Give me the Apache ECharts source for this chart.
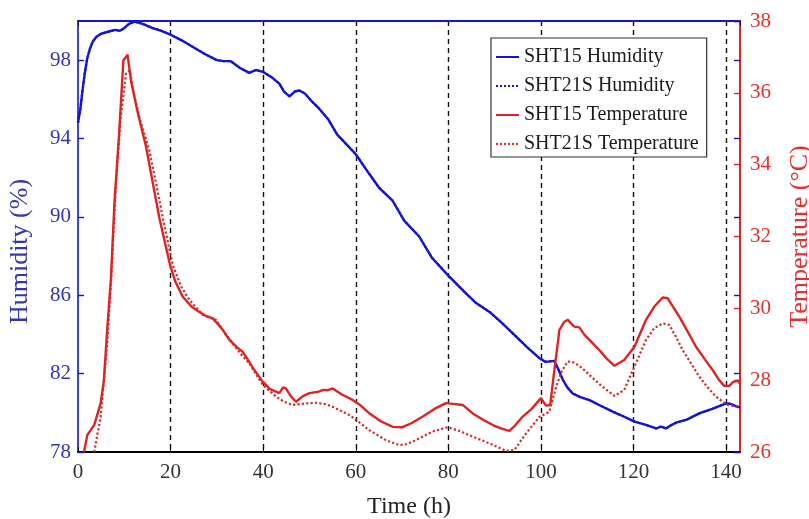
<!DOCTYPE html>
<html>
<head>
<meta charset="utf-8">
<script src="https://cdn.jsdelivr.net/npm/echarts@6/dist/echarts.min.js"></script>
<style>
  html, body { margin: 0; padding: 0; background: #fff; }
  #chart { width: 809px; height: 519px; }
</style>
</head>
<body>
<div id="chart"></div>
<script>
// Time axis ticks (h) and axis ranges
const timeTicks = [0, 20, 40, 60, 80, 100, 120, 140];

// Relative humidity (%) logged over the run
const humTime = [0, 0.5, 1.0, 1.5, 2.0, 2.6, 3.2, 4.0, 5.0, 6.5, 8.0, 9.0, 9.8, 11, 12.2, 14, 16, 18, 20, 22.5, 25, 27.5, 30, 31.5, 33, 35, 37, 38.4, 40, 42, 43.5, 44.5, 45.7, 46.8, 47.8, 49, 50.5, 52, 54, 56, 58, 60, 62.9, 65, 67.9, 70.5, 73.7, 76.5, 80, 83.8, 86, 88.9, 91.5, 94.6, 97, 99.6, 101, 102.9, 103.8, 104.7, 105.7, 106.8, 108.5, 110.5, 113, 115.5, 118, 120.2, 122.5, 124.9, 125.9, 127, 128, 129.2, 131.5, 134.2, 137, 140, 141, 142.5, 143];
const humSHT15 = [94.8, 95.5, 96.5, 97.4, 98.1, 98.6, 98.95, 99.2, 99.35, 99.45, 99.55, 99.5, 99.6, 99.85, 99.97, 99.85, 99.65, 99.5, 99.3, 99.0, 98.65, 98.3, 98.0, 97.95, 97.95, 97.6, 97.35, 97.5, 97.4, 97.1, 96.8, 96.4, 96.15, 96.4, 96.45, 96.3, 95.9, 95.55, 95.0, 94.2, 93.7, 93.2, 92.2, 91.5, 90.85, 89.8, 89.0, 87.9, 87.0, 86.1, 85.6, 85.15, 84.6, 83.9, 83.35, 82.8, 82.6, 82.65, 82.2, 81.7, 81.3, 81.0, 80.8, 80.65, 80.35, 80.06, 79.8, 79.55, 79.4, 79.2, 79.3, 79.2, 79.35, 79.5, 79.65, 79.97, 80.2, 80.48, 80.45, 80.3, 80.3];
// SHT21S humidity runs on top of the SHT15 trace
const humSHT21S = [94.8, 95.5, 96.5, 97.4, 98.1, 98.6, 98.95, 99.2, 99.35, 99.45, 99.55, 99.5, 99.6, 99.85, 99.97, 99.85, 99.65, 99.5, 99.3, 99.0, 98.65, 98.3, 98.0, 97.95, 97.95, 97.6, 97.35, 97.5, 97.4, 97.1, 96.8, 96.4, 96.15, 96.4, 96.45, 96.3, 95.9, 95.55, 95.0, 94.2, 93.7, 93.2, 92.2, 91.5, 90.85, 89.8, 89.0, 87.9, 87.0, 86.1, 85.6, 85.15, 84.6, 83.9, 83.35, 82.8, 82.6, 82.65, 82.2, 81.7, 81.3, 81.0, 80.8, 80.65, 80.35, 80.06, 79.8, 79.55, 79.4, 79.2, 79.3, 79.2, 79.35, 79.5, 79.65, 79.97, 80.2, 80.48, 80.45, 80.3, 80.3];

// Temperature (°C), SHT15
const tempTime15 = [1.3, 2.0, 3.5, 4.9, 5.6, 6.3, 7.1, 7.9, 8.9, 9.8, 10.7, 11.5, 13, 14.7, 16, 17.6, 19.9, 21, 22.6, 24.5, 26.2, 27.5, 29.1, 31, 32.7, 34.5, 35.5, 36.3, 38, 39.9, 41.5, 43.5, 44.3, 44.9, 46, 47.1, 48.5, 50, 52, 53, 54, 55, 57, 59.3, 61, 62.9, 65.5, 68, 70.1, 72, 74.4, 77, 79.5, 81, 83.1, 85.2, 87.5, 89.6, 91.5, 93.2, 94.5, 96, 98, 100, 101.1, 102, 102.9, 104, 105, 105.8, 106.5, 107.2, 108.3, 109.4, 111, 112.6, 114.2, 115.9, 118, 120.2, 122.7, 124.5, 126.3, 127.4, 128.5, 129.9, 131.7, 133.5, 135.3, 137.1, 138.5, 139.6, 140.7, 141.5, 142.5, 143];
const tempSHT15 = [26.0, 26.47, 26.75, 27.36, 28.0, 29.4, 30.8, 33.0, 34.9, 36.9, 37.06, 36.3, 35.4, 34.5, 33.6, 32.5, 31.2, 30.75, 30.33, 30.05, 29.9, 29.8, 29.72, 29.45, 29.12, 28.9, 28.8, 28.65, 28.3, 27.96, 27.75, 27.64, 27.8, 27.77, 27.55, 27.4, 27.55, 27.64, 27.68, 27.73, 27.72, 27.77, 27.6, 27.45, 27.3, 27.08, 26.85, 26.7, 26.69, 26.8, 26.98, 27.2, 27.36, 27.34, 27.31, 27.08, 26.9, 26.75, 26.65, 26.59, 26.75, 26.98, 27.2, 27.5, 27.29, 27.31, 28.28, 29.4, 29.62, 29.68, 29.58, 29.49, 29.47, 29.26, 29.05, 28.84, 28.6, 28.4, 28.56, 28.93, 29.68, 30.05, 30.3, 30.28, 30.05, 29.77, 29.35, 28.93, 28.6, 28.28, 28.0, 27.84, 27.84, 27.95, 27.99, 27.9];

// Temperature (°C), SHT21S
const tempTime21 = [3.5, 4.2, 4.9, 5.6, 6.4, 7.2, 8.2, 9.2, 10.4, 11.2, 12, 13.5, 15.4, 17.0, 18.5, 20.5, 22.3, 24.1, 26.9, 29.8, 31.5, 33.4, 35, 37, 39.9, 42.8, 44.5, 46.4, 49, 51.4, 53.5, 55, 58.6, 60.5, 62.9, 66.5, 69.4, 71, 73, 76.6, 79.9, 82.5, 85.2, 88.9, 92.5, 94.3, 96.8, 99.7, 101.8, 103.3, 104.5, 105.8, 107.2, 108.8, 110.5, 113, 115.9, 118, 120.2, 122.7, 124.5, 126.3, 127.7, 129.2, 130.6, 132.5, 134.2, 136, 137.8, 140.3, 142.5, 143];
const tempSHT21S = [26.0, 26.5, 26.98, 28.0, 29.2, 30.9, 33.5, 35.3, 36.55, 36.62, 36.0, 35.2, 34.4, 33.4, 32.4, 31.2, 30.6, 30.23, 29.82, 29.68, 29.35, 29.03, 28.75, 28.47, 27.87, 27.54, 27.4, 27.31, 27.35, 27.37, 27.33, 27.26, 27.03, 26.85, 26.61, 26.33, 26.19, 26.22, 26.33, 26.57, 26.69, 26.58, 26.43, 26.24, 26.03, 26.06, 26.52, 26.98, 27.12, 27.82, 28.25, 28.52, 28.49, 28.35, 28.14, 27.85, 27.56, 27.73, 28.38, 29.12, 29.45, 29.58, 29.54, 29.2, 28.84, 28.45, 28.1, 27.8, 27.54, 27.31, 27.26, 27.25];

const pairs = (xs, ys) => xs.map((x, i) => [x, ys[i]]);

const serif = "'Liberation Serif', 'Times New Roman', serif";
const BLUE = '#1414d6';
const BLUE_TXT = '#3434b4';
const RED = '#e02222';
const RED_TXT = '#e23030';

const chart = echarts.init(document.getElementById('chart'), null, { renderer: 'canvas' });

chart.setOption({
  animation: false,
  backgroundColor: '#ffffff',
  grid: { left: 78, right: 69, top: 21, bottom: 67, containLabel: false, outerBoundsMode: 'none' },
  legend: {
    orient: 'vertical',
    left: 491,
    top: 38,
    padding: [9, 8, 3, 4],
    itemGap: 9,
    itemWidth: 23,
    itemHeight: 12,
    backgroundColor: '#ffffff',
    borderColor: '#333333',
    borderWidth: 1.2,
    // keep only the line sample in each legend entry
    itemStyle: { opacity: 0 },
    textStyle: { fontFamily: serif, fontSize: 20, color: '#1a1a1a' },
    data: ['SHT15 Humidity', 'SHT21S Humidity', 'SHT15 Temperature', 'SHT21S Temperature']
  },
  xAxis: [
    {
      type: 'value',
      min: timeTicks[0],
      max: 143,
      interval: 20,
      name: 'Time (h)',
      nameLocation: 'middle',
      nameGap: 43,
      nameTextStyle: { fontFamily: serif, fontSize: 24, color: '#222' },
      axisLine: { show: true, onZero: false, lineStyle: { color: '#000', width: 2 } },
      axisTick: { show: true, inside: true, length: 5, lineStyle: { color: '#000', width: 1 } },
      axisLabel: { fontFamily: serif, fontSize: 21, color: '#333', margin: 10, showMaxLabel: false },
      splitLine: { show: true, showMinLine: false, showMaxLine: false, lineStyle: { color: '#111', type: [5, 4], width: 1.4 } }
    },
    {
      type: 'value',
      position: 'top',
      min: timeTicks[0],
      max: 143,
      interval: 20,
      axisLine: { show: true, onZero: false, lineStyle: { color: BLUE, width: 2 } },
      axisTick: { show: true, inside: true, length: 5, lineStyle: { color: '#111', width: 1 } },
      axisLabel: { show: false },
      splitLine: { show: false }
    }
  ],
  yAxis: [
    {
      type: 'value',
      position: 'left',
      min: 78,
      max: 100,
      interval: 4,
      name: 'Humidity (%)',
      nameLocation: 'middle',
      nameGap: 45,
      nameRotate: 90,
      nameTextStyle: { fontFamily: serif, fontSize: 26, color: BLUE_TXT, padding: [0, 30, 0, 0] },
      axisLine: { show: true, onZero: false, lineStyle: { color: BLUE, width: 1.6 } },
      axisTick: { show: true, inside: true, length: 6, lineStyle: { color: BLUE, width: 1.4 } },
      axisLabel: { fontFamily: serif, fontSize: 21, color: BLUE_TXT, margin: 7, showMaxLabel: false },
      splitLine: { show: false }
    },
    {
      type: 'value',
      position: 'right',
      min: 26,
      max: 38,
      interval: 2,
      name: 'Temperature (°C)',
      nameLocation: 'middle',
      nameGap: 47,
      nameRotate: 90,
      nameTextStyle: { fontFamily: serif, fontSize: 26, color: RED_TXT },
      axisLine: { show: true, onZero: false, lineStyle: { color: RED, width: 2 } },
      axisTick: { show: true, inside: true, length: 6, lineStyle: { color: RED, width: 1.4 } },
      axisLabel: { fontFamily: serif, fontSize: 21, color: RED_TXT, margin: 10 },
      splitLine: { show: false }
    },
    {
      // humidity ticks repeated along the right edge
      type: 'value',
      position: 'right',
      offset: 0,
      min: 78,
      max: 100,
      interval: 4,
      axisLine: { show: false, onZero: false },
      axisTick: { show: true, inside: true, length: 6, lineStyle: { color: BLUE, width: 1.4 } },
      axisLabel: { show: false },
      splitLine: { show: false }
    }
  ],
  series: [
    {
      name: 'SHT21S Humidity',
      type: 'line',
      yAxisIndex: 0,
      symbol: 'none',
      data: pairs(humTime, humSHT21S),
      lineStyle: { color: BLUE, width: 2.2, type: 'dotted' },
      itemStyle: { color: BLUE },
      z: 2
    },
    {
      name: 'SHT15 Humidity',
      type: 'line',
      yAxisIndex: 0,
      symbol: 'none',
      data: pairs(humTime, humSHT15),
      lineStyle: { color: BLUE, width: 2.4 },
      itemStyle: { color: BLUE },
      z: 3
    },
    {
      name: 'SHT21S Temperature',
      type: 'line',
      yAxisIndex: 1,
      symbol: 'none',
      data: pairs(tempTime21, tempSHT21S),
      lineStyle: { color: '#d42c2c', width: 2.2, type: 'dotted' },
      itemStyle: { color: '#d42c2c' },
      z: 4
    },
    {
      name: 'SHT15 Temperature',
      type: 'line',
      yAxisIndex: 1,
      symbol: 'none',
      data: pairs(tempTime15, tempSHT15),
      lineStyle: { color: RED, width: 2.4 },
      itemStyle: { color: RED },
      z: 5
    }
  ]
});
</script>
</body>
</html>
